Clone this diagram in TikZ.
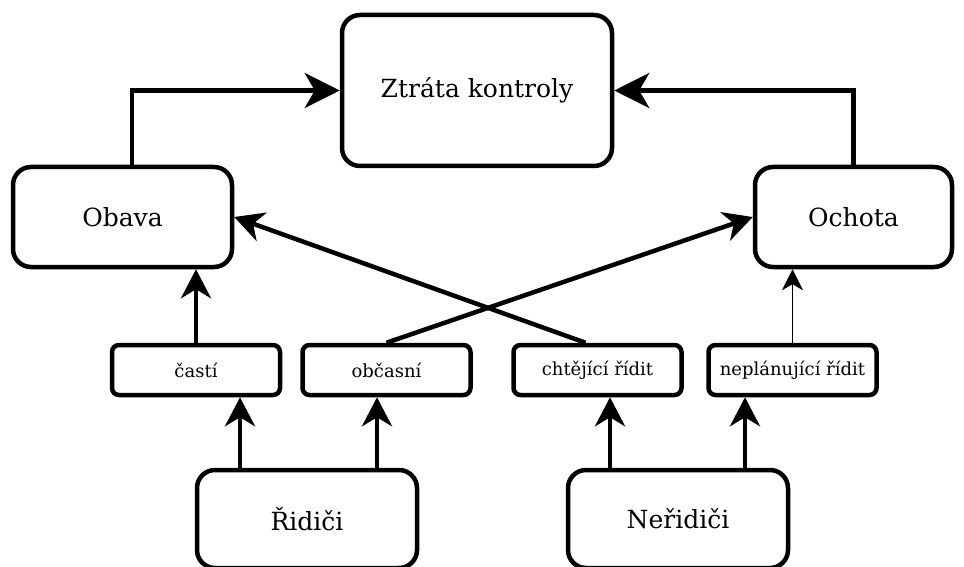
\documentclass[tikz,border=0pt]{standalone}
\usepackage{fontspec}
\setmainfont{DejaVu Serif}
\usetikzlibrary{arrows.meta,calc}

\tikzset{
  bigbox/.style={draw, line width=4.5pt, rounded corners=18pt, inner sep=0pt,
    font=\fontsize{25}{28}\selectfont},
  smallbox/.style={draw, line width=4.5pt, rounded corners=7pt, inner sep=0pt,
    minimum width=168pt, minimum height=50pt, font=\fontsize{18}{21}\selectfont},
  arr/.style={line width=4.5pt, -{Stealth[length=29pt, width=30pt, inset=9pt]}},
  bigarr/.style={line width=4.5pt, -{Stealth[length=35pt, width=35pt, inset=10pt]}},
  thinarr/.style={line width=1.8pt, -{Stealth[length=21pt, width=21pt, inset=6pt]}},
}

\begin{document}
\begin{tikzpicture}[x=1pt, y=-1pt]
  \useasboundingbox (0,0) rectangle (964,567);

  % main outcome
  \node[bigbox, minimum width=270pt, minimum height=151pt] (ztrata) at (477,90.5) {Ztráta kontroly};

  % mediating states
  \node[bigbox, minimum width=219pt, minimum height=100pt] (obava) at (122.5,217) {Obava};
  \node[bigbox, minimum width=197pt, minimum height=100pt] (ochota) at (853.5,217) {Ochota};

  % driver sub-groups
  \node[smallbox] (casti)   at (196,370)   {častí};
  \node[smallbox] (obcasni) at (386.5,370) {občasní};
  \node[smallbox] (chtejici) at (597.5,370) {chtějící řídit};
  \node[smallbox] (neplan)  at (792.5,370) {neplánující řídit};

  % groups
  \node[bigbox, minimum width=220pt, minimum height=98pt] (ridici)   at (307,519) {Řidiči};
  \node[bigbox, minimum width=220pt, minimum height=98pt] (neridici) at (678,519) {Neřidiči};

  % into the outcome
  \draw[bigarr] ([xshift=9.5pt]obava.north) |- (ztrata.west);
  \draw[bigarr] (ochota.north) |- (ztrata.east);

  % sub-groups to states
  \draw[arr] (casti.north) -- (casti.north |- obava.south);
  \draw[arr] (obcasni.north) -- (ochota.west);
  \draw[arr] ([xshift=-12pt]chtejici.north) -- (obava.east);
  \draw[thinarr] (neplan.north) -- (neplan.north |- ochota.south);

  % groups to sub-groups
  \draw[arr] ([xshift=-67pt]ridici.north) -- ([xshift=-67pt]ridici.north |- casti.south);
  \draw[arr] ([xshift=70pt]ridici.north) -- ([xshift=70pt]ridici.north |- obcasni.south);
  \draw[arr] ([xshift=-68pt]neridici.north) -- ([xshift=-68pt]neridici.north |- chtejici.south);
  \draw[arr] ([xshift=67pt]neridici.north) -- ([xshift=67pt]neridici.north |- neplan.south);
\end{tikzpicture}
\end{document}
